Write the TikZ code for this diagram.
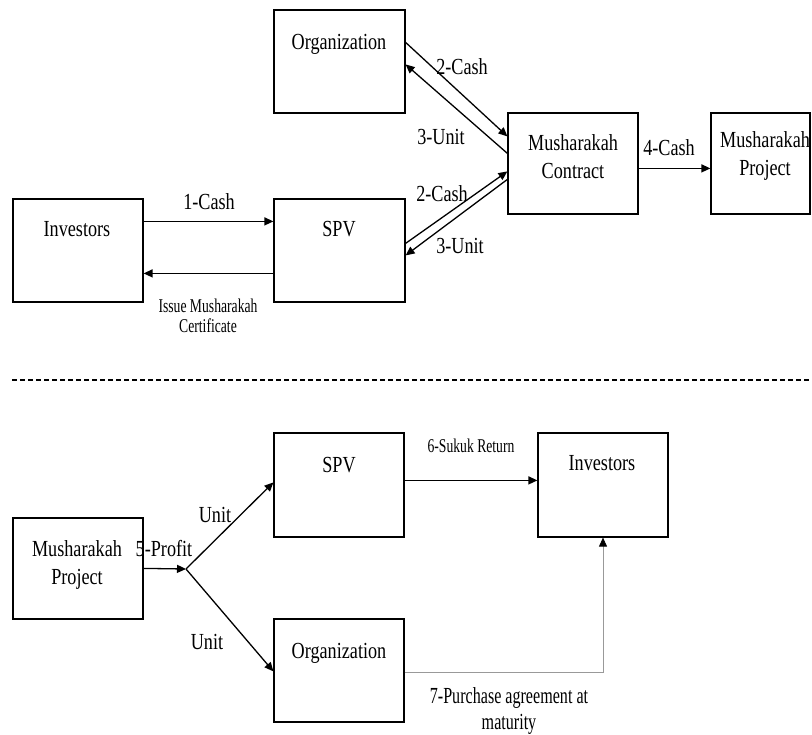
\documentclass[tikz,border=0pt]{standalone}
\usepackage{fontspec}
\setmainfont[FakeStretch=0.79]{Liberation Serif}
\newfontfamily\narrowf[FakeStretch=0.7]{Liberation Serif}
\usetikzlibrary{arrows.meta,calc}
\tikzset{
  box/.style={draw, line width=1.2pt, inner sep=0pt, minimum width=131pt, minimum height=103pt},
  txt/.style={inner sep=0pt, anchor=base, font=\fontsize{23}{28}\selectfont, align=center},
  small/.style={inner sep=0pt, anchor=base, font=\narrowf\fontsize{19.5}{24}\selectfont, align=center},
  mid/.style={inner sep=0pt, anchor=base, font=\narrowf\fontsize{23}{26}\selectfont, align=center},
  arr/.style={line width=1.3pt, -{Triangle[length=9pt,width=8pt]}},
  grayarr/.style={line width=0.9pt, draw=gray!80, -{Triangle[length=9pt,width=8pt,color=black]}}
}
\begin{document}
\begin{tikzpicture}[x=1pt,y=-1pt]
\useasboundingbox (0,0) rectangle (812,735);
% ---------- top part ----------
\node[box] (org1) at (339.5,61.5) {};
\node[box] (spv1) at (339.5,250.5) {};
\node[box, minimum width=130pt, minimum height=101pt] (con) at (573,163.5) {};
\node[box, minimum width=99pt, minimum height=101pt] (proj1) at (760.5,163.5) {};
\node[box, minimum width=130pt] (inv1) at (78,250.5) {};

\node[txt] (torg1) at (339,50) {Organization};
\node[txt] (tspv1) at (339,237) {SPV};
\node[txt] (tinv1) at (77,237) {Investors};
\node[txt] (tcon) at (573,179) {Musharakah\\Contract};
\node[txt] (tproj1) at (765,176) {Musharakah\\Project};

\draw[arr] ([yshift=-23pt]inv1.north east) -- ([yshift=-23pt]spv1.north west);
\draw[arr] ([yshift=-75pt]spv1.north west) -- ([yshift=-75pt]inv1.north east);
\draw[arr] ([yshift=-33pt]org1.north east) -- ([yshift=-24pt]con.north west);
\draw[arr] ([yshift=-41pt]con.north west) -- ([yshift=-55pt]org1.north east);
\draw[arr] ([yshift=-45pt]spv1.north east) -- ([yshift=-59pt]con.north west);
\draw[arr] ([yshift=-67pt]con.north west) -- ([yshift=-57pt]spv1.north east);
\draw[arr] ([yshift=-56pt]con.north east) -- ([yshift=-56pt]proj1.north west);

\node[txt] (l1) at (209,210) {1-Cash};
\node[small] (lissue) at (208,332.5) {Issue Musharakah\\[-4pt]Certificate};
\node[txt] (l2a) at (462,75) {2-Cash};
\node[txt] (l3a) at (441,145) {3-Unit};
\node[txt] (l2b) at (442,202) {2-Cash};
\node[txt] (l3b) at (460,254) {3-Unit};
\node[txt] (l4) at (669,156) {4-Cash};

% ---------- separator ----------
\coordinate (dl) at (12,380);
\coordinate (dr) at (812,380);
\draw[line width=1.2pt, dash pattern=on 5pt off 3pt] (dl) -- (dr);

% ---------- bottom part ----------
\node[box, minimum width=130pt, minimum height=101pt] (proj2) at (78,568.5) {};
\node[box, minimum width=130pt, minimum height=104pt] (spv2) at (339,485) {};
\node[box, minimum width=130pt] (org2) at (339,670.5) {};
\node[box, minimum width=130pt, minimum height=104pt] (inv2) at (603,485) {};

\node[txt] (tproj2) at (77,584) {Musharakah\\Project};
\node[txt] (tspv2) at (339,472) {SPV};
\node[txt] (torg2) at (339,658) {Organization};
\node[txt] (tinv2) at (602,471) {Investors};

\coordinate (j) at (186,569);
\draw[arr] ([yshift=-51pt]proj2.north east) -- (j);
\draw[arr] (j) -- ([yshift=-50pt]spv2.north west);
\draw[arr] (j) -- ([yshift=-53pt]org2.north west);
\draw[arr] ([yshift=-48pt]spv2.north east) -- ([yshift=-48pt]inv2.north west);
\draw[grayarr] ([yshift=-54pt]org2.north east) -| (inv2.south);

\node[txt] (l5) at (164,556) {5-Profit};
\node[txt] (lu1) at (215,522) {Unit};
\node[txt] (lu2) at (207,649) {Unit};
\node[small] (l6) at (471,453) {6-Sukuk Return};
\node[mid] (l7) at (509,729.5) {7-Purchase agreement at\\maturity};
\end{tikzpicture}
\end{document}
